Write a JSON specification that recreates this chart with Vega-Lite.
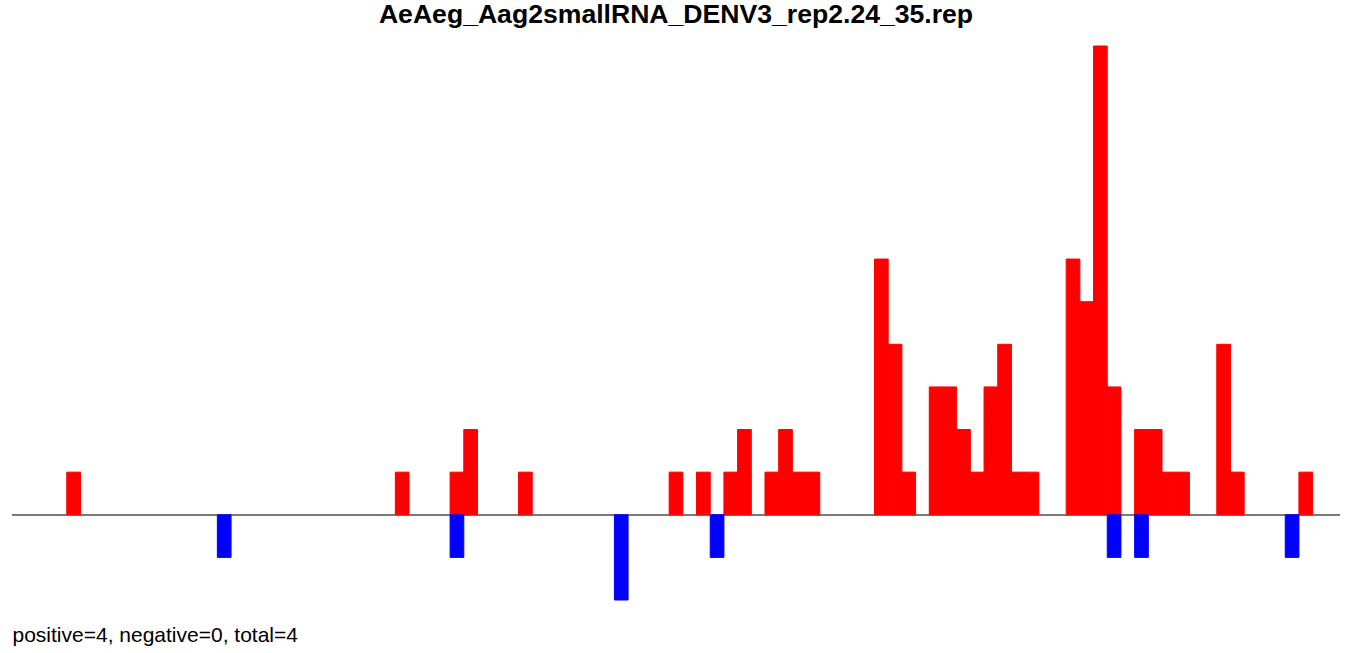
{
  "$schema": "https://vega.github.io/schema/vega-lite/v6.json",
  "autosize": "none",
  "width": 1328,
  "height": 554,
  "padding": {"left": 12, "top": 46, "right": 12, "bottom": 53},
  "background": "white",
  "config": {"view": {"stroke": null}, "font": "Liberation Sans"},
  "title": {
    "text": "AeAeg_Aag2smallRNA_DENV3_rep2.24_35.rep",
    "font": "Liberation Sans",
    "fontSize": 26.6,
    "fontWeight": "bold",
    "color": "black",
    "anchor": "middle",
    "offset": 17
  },
  "data": {
    "values": [
      {"start": 0, "end": 1, "count": 1, "strand": "+"},
      {"start": 24, "end": 25, "count": 1, "strand": "+"},
      {"start": 28, "end": 29, "count": 1, "strand": "+"},
      {"start": 29, "end": 30, "count": 2, "strand": "+"},
      {"start": 33, "end": 34, "count": 1, "strand": "+"},
      {"start": 44, "end": 45, "count": 1, "strand": "+"},
      {"start": 46, "end": 47, "count": 1, "strand": "+"},
      {"start": 48, "end": 49, "count": 1, "strand": "+"},
      {"start": 49, "end": 50, "count": 2, "strand": "+"},
      {"start": 51, "end": 52, "count": 1, "strand": "+"},
      {"start": 52, "end": 53, "count": 2, "strand": "+"},
      {"start": 53, "end": 54, "count": 1, "strand": "+"},
      {"start": 54, "end": 55, "count": 1, "strand": "+"},
      {"start": 59, "end": 60, "count": 6, "strand": "+"},
      {"start": 60, "end": 61, "count": 4, "strand": "+"},
      {"start": 61, "end": 62, "count": 1, "strand": "+"},
      {"start": 63, "end": 64, "count": 3, "strand": "+"},
      {"start": 64, "end": 65, "count": 3, "strand": "+"},
      {"start": 65, "end": 66, "count": 2, "strand": "+"},
      {"start": 66, "end": 67, "count": 1, "strand": "+"},
      {"start": 67, "end": 68, "count": 3, "strand": "+"},
      {"start": 68, "end": 69, "count": 4, "strand": "+"},
      {"start": 69, "end": 70, "count": 1, "strand": "+"},
      {"start": 70, "end": 71, "count": 1, "strand": "+"},
      {"start": 73, "end": 74, "count": 6, "strand": "+"},
      {"start": 74, "end": 75, "count": 5, "strand": "+"},
      {"start": 75, "end": 76, "count": 11, "strand": "+"},
      {"start": 76, "end": 77, "count": 3, "strand": "+"},
      {"start": 78, "end": 79, "count": 2, "strand": "+"},
      {"start": 79, "end": 80, "count": 2, "strand": "+"},
      {"start": 80, "end": 81, "count": 1, "strand": "+"},
      {"start": 81, "end": 82, "count": 1, "strand": "+"},
      {"start": 84, "end": 85, "count": 4, "strand": "+"},
      {"start": 85, "end": 86, "count": 1, "strand": "+"},
      {"start": 90, "end": 91, "count": 1, "strand": "+"},
      {"start": 11, "end": 12, "count": -1, "strand": "-"},
      {"start": 28, "end": 29, "count": -1, "strand": "-"},
      {"start": 40, "end": 41, "count": -2, "strand": "-"},
      {"start": 47, "end": 48, "count": -1, "strand": "-"},
      {"start": 76, "end": 77, "count": -1, "strand": "-"},
      {"start": 78, "end": 79, "count": -1, "strand": "-"},
      {"start": 89, "end": 90, "count": -1, "strand": "-"}
    ]
  },
  "layer": [
    {
      "mark": {"type": "rule", "color": "#7a7a7a", "strokeWidth": 1.5},
      "encoding": {
        "y": {"datum": 0, "type": "quantitative", "axis": null, "scale": {"domain": [-2, 11], "nice": false}}
      }
    },
    {
      "mark": {"type": "bar", "strokeWidth": 1, "strokeOpacity": 1, "fillOpacity": 1},
      "encoding": {
        "x": {
          "field": "start",
          "type": "quantitative",
          "scale": {"domain": [-4, 93], "nice": false, "zero": false},
          "axis": {
            "labels": false,
            "ticks": false,
            "domain": false,
            "grid": false,
            "title": "positive=4, negative=0, total=4",
            "titleAnchor": "start",
            "titleAlign": "left",
            "titleFont": "Liberation Sans",
            "titleFontSize": 21,
            "titleFontWeight": "normal",
            "titleColor": "black",
            "titleBaseline": "alphabetic",
            "titlePadding": 41
          }
        },
        "x2": {"field": "end"},
        "y": {
          "field": "count",
          "type": "quantitative",
          "scale": {"domain": [-2, 11], "nice": false},
          "axis": null
        },
        "y2": {"datum": 0},
        "fill": {
          "field": "strand",
          "type": "nominal",
          "scale": {"domain": ["+", "-"], "range": ["#ff0000", "#0000ff"]},
          "legend": null
        },
        "stroke": {
          "field": "strand",
          "type": "nominal",
          "scale": {"domain": ["+", "-"], "range": ["#ff0000", "#0000ff"]},
          "legend": null
        }
      }
    }
  ]
}
